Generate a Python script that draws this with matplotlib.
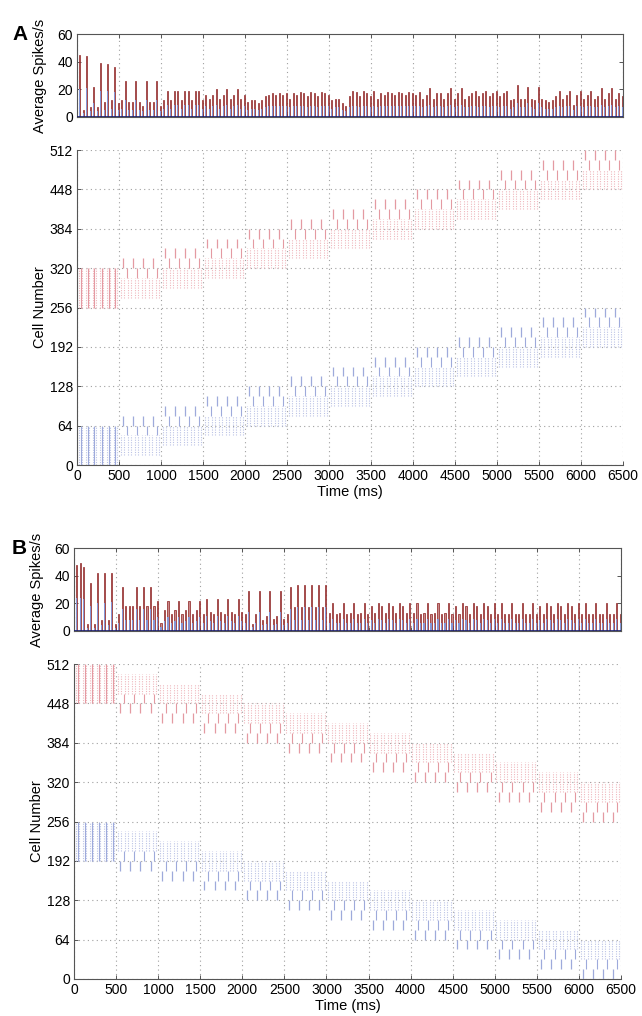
import numpy as np
import matplotlib
matplotlib.use("Agg")
import matplotlib.pyplot as plt

plt.rcParams['font.family'] = ['Liberation Sans', 'DejaVu Sans']
plt.rcParams['font.size'] = 9.5

# ---------------- data ----------------
n_epochs = 13
epoch_ms = 500
bin_ms = 500 / 12

# histogram heights (12 bins per 500 ms epoch)
red_hist_A = [45, 5, 44, 7, 22, 7, 39, 11, 38, 12, 36, 10,
              12, 26, 11, 11, 26, 11, 8, 26, 11, 11, 26, 8,
              12, 19, 12, 19, 19, 12, 19, 19, 12, 19, 19, 12,
              16, 13, 16, 20, 13, 16, 20, 13, 16, 20, 13, 16,
              11, 12, 12, 10, 12, 15, 16, 17, 16, 17, 16, 17,
              13, 17, 16, 18, 17, 15, 18, 17, 15, 18, 17, 16,
              12, 13, 13, 10, 8, 15, 19, 18, 15, 19, 17, 15,
              19, 13, 17, 16, 18, 17, 16, 18, 17, 16, 18, 17,
              16, 18, 13, 16, 21, 13, 17, 17, 13, 17, 21, 13,
              17, 21, 13, 15, 17, 19, 15, 17, 19, 15, 17, 19,
              15, 17, 19, 12, 13, 23, 13, 13, 22, 13, 12, 22,
              13, 12, 11, 12, 15, 19, 13, 16, 19, 9, 16, 19,
              13, 16, 19, 13, 15, 21, 13, 17, 21, 13, 17, 15]
blue_hist_A = [20, 3, 21, 4, 10, 4, 19, 5, 19, 6, 18, 5,
               6, 12, 5, 5, 12, 5, 4, 12, 5, 5, 12, 4,
               6, 9, 6, 9, 9, 6, 9, 9, 6, 9, 9, 6,
               8, 6, 8, 9, 6, 8, 9, 6, 8, 9, 6, 8,
               5, 6, 6, 5, 6, 7, 8, 8, 8, 8, 8, 8,
               7, 8, 8, 8, 8, 7, 8, 8, 7, 8, 8, 8,
               6, 7, 7, 5, 4, 7, 8, 8, 7, 8, 8, 7,
               8, 7, 8, 8, 8, 8, 8, 8, 8, 8, 8, 8,
               8, 8, 7, 8, 9, 7, 8, 8, 7, 8, 9, 7,
               8, 9, 7, 7, 8, 8, 7, 8, 8, 7, 8, 8,
               7, 8, 8, 6, 7, 10, 7, 7, 10, 7, 6, 10,
               7, 6, 6, 6, 7, 8, 7, 8, 8, 5, 8, 8,
               7, 8, 8, 7, 7, 9, 7, 8, 9, 7, 8, 7]
red_hist_B = [48, 49, 46, 5, 35, 5, 42, 8, 42, 8, 42, 5,
              12, 32, 18, 18, 18, 32, 18, 32, 18, 32, 18, 22,
              6, 15, 22, 12, 15, 22, 12, 15, 22, 12, 15, 22,
              12, 23, 14, 12, 23, 14, 12, 23, 14, 12, 23, 14,
              12, 29, 5, 12, 29, 8, 11, 29, 9, 11, 29, 9,
              12, 32, 17, 33, 17, 33, 17, 33, 17, 33, 17, 33,
              13, 20, 12, 13, 20, 12, 13, 20, 12, 13, 20, 12,
              18, 13, 20, 18, 13, 20, 18, 13, 20, 18, 13, 20,
              13, 20, 12, 13, 20, 12, 13, 20, 12, 13, 20, 12,
              18, 12, 20, 18, 12, 20, 18, 12, 20, 18, 12, 20,
              12, 20, 12, 12, 20, 12, 12, 20, 12, 12, 20, 12,
              18, 12, 20, 18, 12, 20, 18, 12, 20, 18, 12, 20,
              12, 20, 12, 12, 20, 12, 12, 20, 12, 12, 20, 12]
blue_hist_B = [24, 24, 23, 2, 18, 2, 20, 4, 20, 4, 21, 2,
               6, 16, 8, 8, 8, 16, 8, 16, 8, 16, 8, 10,
               3, 7, 10, 6, 7, 10, 6, 7, 10, 6, 7, 10,
               6, 11, 7, 6, 11, 7, 6, 11, 7, 6, 11, 7,
               6, 14, 3, 6, 14, 4, 5, 14, 4, 5, 14, 4,
               6, 16, 8, 17, 8, 17, 8, 17, 8, 17, 8, 17,
               6, 9, 6, 6, 9, 6, 6, 9, 6, 6, 9, 6,
               8, 6, 9, 8, 6, 9, 8, 6, 9, 8, 6, 9,
               6, 9, 6, 6, 9, 6, 6, 9, 6, 6, 9, 6,
               8, 6, 9, 8, 6, 9, 8, 6, 9, 8, 6, 9,
               6, 9, 6, 6, 9, 6, 6, 9, 6, 6, 9, 6,
               8, 6, 9, 8, 6, 9, 8, 6, 9, 8, 6, 9,
               6, 9, 6, 6, 9, 6, 6, 9, 6, 6, 9, 6]

# raster bands per epoch: lower / upper cell of active band
red_lo_A = [256, 272, 288, 304, 320, 336, 352, 368, 384, 400, 416, 432, 448]
red_hi_A = [320, 336, 352, 368, 384, 400, 416, 432, 448, 464, 480, 496, 512]
blue_lo_A = [0, 16, 32, 48, 64, 80, 96, 112, 128, 144, 160, 176, 192]
blue_hi_A = [64, 80, 96, 112, 128, 144, 160, 176, 192, 208, 224, 240, 256]
red_lo_B = [448, 432, 416, 400, 384, 368, 352, 336, 320, 304, 288, 272, 256]
red_hi_B = [512, 496, 480, 464, 448, 432, 416, 400, 384, 368, 352, 336, 320]
blue_lo_B = [192, 176, 160, 144, 128, 112, 96, 80, 64, 48, 32, 16, 0]
blue_hi_B = [256, 240, 224, 208, 192, 176, 160, 144, 128, 112, 96, 80, 64]

# spike-volley times within an epoch (ms)
first_epoch_off = [42, 125, 208, 292, 375, 458]
tier1_off = [50, 170, 290, 410]
tier2_off = [90, 210, 330, 450]
dotted_off = [20, 62, 104, 145, 187, 229, 270, 312, 354, 395, 437, 479]

xticks = list(range(0, 6501, 500))
yticks_hist = [0, 20, 40, 60]
yticks_raster = [0, 64, 128, 192, 256, 320, 384, 448, 512]

# ---------------- styles ----------------
RED_BAR = '#c98a8a'
RED_EDGE = '#8a1c1c'
BLUE_BAR = '#8596d6'
NAVY = '#1a1f6e'
RED_S = '#e49aa2'
RED_D = '#efb8be'
BLUE_S = '#9eaadb'
BLUE_D = '#bcc4e6'
GRID = '#a0a0a0'
SPINE = '#555555'

W, H = 642, 1016
fig = plt.figure(figsize=(W / 100, H / 100), dpi=100)


def fr(l, t, r, b):
    return [l / W, 1 - b / H, (r - l) / W, (b - t) / H]


def style_axes(ax, box):
    for s in ax.spines.values():
        s.set_color(SPINE)
        s.set_linewidth(0.8)
    if not box:
        ax.spines['top'].set_visible(False)
        ax.spines['right'].set_visible(False)
    ax.tick_params(direction='in', length=3, width=0.7, color=SPINE,
                   labelsize=10, top=box, right=box, pad=3)
    ax.set_xlim(0, 6500)
    ax.set_xticks(xticks)


def draw_hist(ax, red, blue):
    x = (np.arange(len(red)) + 1) * bin_ms - 8
    ax.bar(x, red, width=13, color=RED_BAR, edgecolor=RED_EDGE,
           linewidth=0.5, align='center', zorder=2)
    ax.bar(x, blue, width=13, color=BLUE_BAR, edgecolor='none',
           align='center', zorder=3)
    ax.axhline(0.3, color=NAVY, lw=1.2, zorder=4)
    ax.set_ylim(0, 60)
    ax.set_yticks(yticks_hist)
    ax.set_xticklabels([])
    ax.grid(axis='x', linestyle=(0, (1, 3)), color=GRID, lw=0.8)
    ax.set_axisbelow(True)
    ax.set_ylabel('Average Spikes/s', fontsize=10.5, labelpad=4)
    style_axes(ax, True)


def draw_pop(ax, lo, hi, rising, cs, cd):
    for k in range(n_epochs):
        t0 = k * epoch_ms
        if k == 0:
            ax.vlines([t0 + o for o in first_epoch_off], lo[k], hi[k],
                      color=cs, lw=0.8, zorder=3)
            ax.vlines([t0 + o for o in dotted_off], lo[k], hi[k],
                      color=cd, lw=0.8, linestyles=[(0, (1, 1.2))], zorder=2)
            continue
        if rising:
            s1 = (hi[k] - 16, hi[k])
            s2 = (hi[k] - 32, hi[k] - 16)
            dd = (lo[k], hi[k] - 32)
        else:
            s1 = (lo[k], lo[k] + 16)
            s2 = (lo[k] + 16, lo[k] + 32)
            dd = (lo[k] + 32, hi[k])
        ax.vlines([t0 + o for o in tier1_off], s1[0], s1[1],
                  color=cs, lw=0.9, zorder=3)
        ax.vlines([t0 + o for o in tier2_off], s2[0], s2[1],
                  color=cs, lw=0.8, zorder=3)
        ax.vlines([t0 + o for o in dotted_off], dd[0], dd[1],
                  color=cd, lw=0.8, linestyles=[(0, (1, 1.2))], zorder=2)


def draw_raster(ax, rlo, rhi, blo, bhi, rising):
    draw_pop(ax, rlo, rhi, rising, RED_S, RED_D)
    draw_pop(ax, blo, bhi, rising, BLUE_S, BLUE_D)
    ax.set_ylim(0, 512)
    ax.set_yticks(yticks_raster)
    ax.grid(True, linestyle=(0, (1, 3)), color=GRID, lw=0.8)
    ax.set_axisbelow(True)
    ax.set_ylabel('Cell Number', fontsize=10.5, labelpad=4)
    ax.set_xlabel('Time (ms)', fontsize=10.5, labelpad=1)
    style_axes(ax, False)


axA1 = fig.add_axes(fr(77, 34, 623, 117))
draw_hist(axA1, red_hist_A, blue_hist_A)
axA2 = fig.add_axes(fr(77, 150, 623, 465))
draw_raster(axA2, red_lo_A, red_hi_A, blue_lo_A, blue_hi_A, True)

axB1 = fig.add_axes(fr(74, 548, 621, 631))
draw_hist(axB1, red_hist_B, blue_hist_B)
axB2 = fig.add_axes(fr(74, 664, 621, 979))
draw_raster(axB2, red_lo_B, red_hi_B, blue_lo_B, blue_hi_B, False)

for ax in (axA1, axA2, axB1, axB2):
    ax.yaxis.set_label_coords(-0.055, 0.5)

fig.text(12 / W, 1 - 35 / H, 'A', fontsize=15, fontweight='bold', va='center')
fig.text(12 / W, 1 - 548 / H, 'B', fontsize=15, fontweight='bold', va='center')

fig.savefig('out.png', dpi=100)
